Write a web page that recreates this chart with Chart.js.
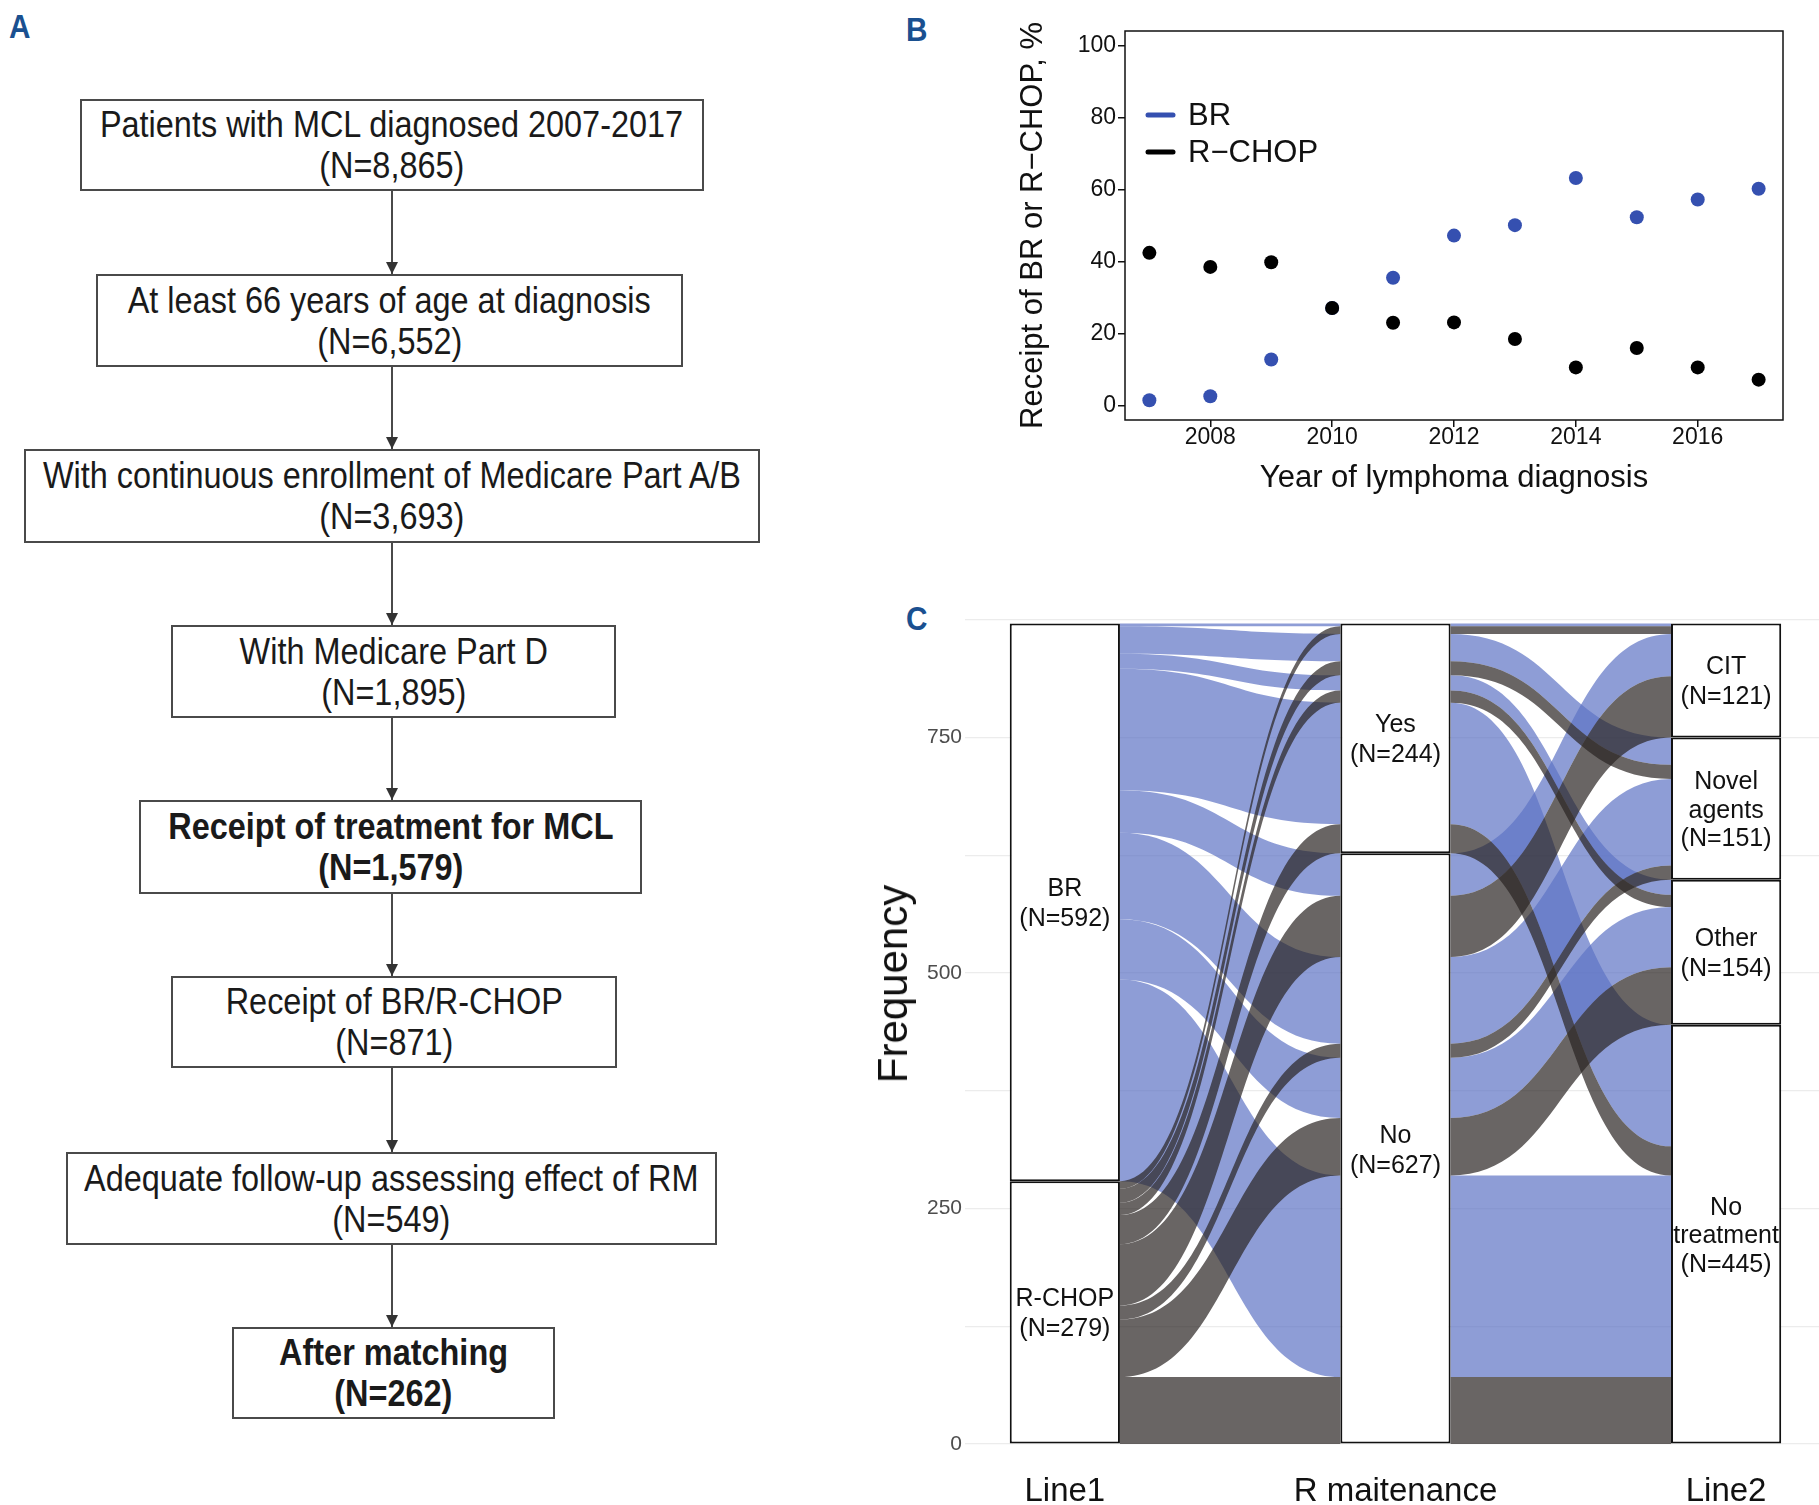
<!DOCTYPE html>
<html><head><meta charset="utf-8">
<script src="https://cdn.jsdelivr.net/npm/chart.js@4.4.1/dist/chart.umd.min.js"></script>
<style>
html,body{margin:0;padding:0;background:#fff;width:1819px;height:1505px;overflow:hidden;position:relative;font-family:'Liberation Sans',Arial,sans-serif;}
.plbl{position:absolute;font-family:'Liberation Sans',Arial,sans-serif;font-weight:bold;color:#1a5090;font-size:33px;line-height:1;transform:scaleX(0.9);transform-origin:left top;}
.box{position:absolute;border:2px solid #4a4a4a;box-sizing:border-box;display:flex;flex-direction:column;align-items:center;justify-content:center;font-family:'Liberation Sans',Arial,sans-serif;font-size:37px;line-height:41px;color:#1a1a1a;text-align:center;white-space:nowrap;}
.box span{display:inline-block;transform:scaleX(0.877);}
.box.b{font-weight:bold;}
.arrow{position:absolute;width:2px;background:#4a4a4a;}
.arrow:after{content:'';position:absolute;left:-5px;bottom:0;border-left:6px solid transparent;border-right:6px solid transparent;border-top:12px solid #333;}
canvas{position:absolute;}
.ytitle{position:absolute;font-size:42px;color:#111;white-space:nowrap;transform:translate(-50%,-50%) rotate(-90deg);}
</style>
</head><body>
<div class="plbl" style="left:9px;top:10px;">A</div>
<div class="plbl" style="left:906px;top:13px;">B</div>
<div class="plbl" style="left:906px;top:602px;">C</div>
<div id="flow"></div>
<canvas id="cB" width="819" height="500" style="left:1000px;top:0px;"></canvas>
<canvas id="cC" width="949" height="945" style="left:870px;top:560px;"></canvas>
<div class="ytitle" style="left:893px;top:984px;">Frequency</div>
<script>
// ---------- Panel A data ----------
const flowText = ['Patients with MCL diagnosed 2007-2017','At least 66 years of age at diagnosis','With continuous enrollment of Medicare Part A/B','With Medicare Part D','Receipt of treatment for MCL','Receipt of BR/R-CHOP','Adequate follow-up assessing effect of RM','After matching'];
const flowN = ['8,865','6,552','3,693','1,895','1,579','871','549','262'];
const flowBold = [false,false,false,false,true,false,false,true];

// ---------- Panel B data ----------
const years = [2007,2008,2009,2010,2011,2012,2013,2014,2015,2016,2017];
const brPct = [1.5,2.6,12.8,27.1,35.5,47.2,50.1,63.2,52.3,57.2,60.2];
const rchopPct = [42.4,38.5,39.8,27.1,23.0,23.1,18.5,10.6,16.0,10.6,7.2];
const xTicksB = [2008,2010,2012,2014,2016];
const yTicksB = [0,20,40,60,80,100];

// ---------- Panel C data ----------
const axisNames = ['Line1','R maitenance','Line2'];
const line1Levels = ['BR','R-CHOP'];
const rmLevels = ['Yes','No'];
const line2Levels = ['CIT','Novel\nagents','Other','No\ntreatment'];
// one alluvium per combination (index into levels)
const aLine1 = [0,0,0,0,0,0,0,0,1,1,1,1,1,1,1,1];
const aRM    = [0,0,0,0,1,1,1,1,0,0,0,0,1,1,1,1];
const aLine2 = [0,1,2,3,0,1,2,3,0,1,2,3,0,1,2,3];
const aCount = [3,29,16,129,45,92,64,214,8,15,13,31,65,15,61,71];
const yTicksC = [0,125,250,375,500,625,750,875];

// ---------- Panel A layout ----------
const flowLayout = [[80,99,624,92],[96,274,587,93],[24,449,736,94],[171,625,445,93],[139,800,503,94],[171,976,446,92],[66,1152,651,93],[232,1327,323,92]];
const flowDiv = document.getElementById('flow');
flowText.forEach((t,i)=>{
  const [l,tp,w,h] = flowLayout[i];
  const d = document.createElement('div');
  d.className = 'box' + (flowBold[i]?' b':'');
  d.style.cssText = `left:${l}px;top:${tp}px;width:${w}px;height:${h}px;`;
  const s1 = document.createElement('span'); s1.textContent = t;
  const s2 = document.createElement('span'); s2.textContent = '(N=' + flowN[i] + ')';
  d.appendChild(s1); d.appendChild(s2);
  flowDiv.appendChild(d);
  if (i < flowText.length-1) {
    const nx = flowLayout[i+1];
    const a = document.createElement('div');
    a.className = 'arrow';
    a.style.cssText = `left:391px;top:${tp+h}px;height:${nx[1]-(tp+h)}px;`;
    flowDiv.appendChild(a);
  }
});

const F = "'Liberation Sans', Arial, sans-serif";

// ---------- Panel B ----------
const boxPlugin = {id:'box', afterDraw(chart){
  const {ctx, chartArea:ca} = chart;
  ctx.save(); ctx.strokeStyle='#111'; ctx.lineWidth=1.5;
  ctx.strokeRect(ca.left, ca.top, ca.right-ca.left, ca.bottom-ca.top);
  ctx.restore();
}};
const legendB = {id:'legendB', afterDraw(chart){
  const {ctx, chartArea:ca} = chart;
  ctx.save();
  chart.data.datasets.forEach((ds,i)=>{
    const yy = ca.top + 84 + i*37;
    ctx.strokeStyle = ds.backgroundColor; ctx.lineWidth = 5; ctx.lineCap='round';
    ctx.beginPath(); ctx.moveTo(ca.left+23, yy); ctx.lineTo(ca.left+48, yy); ctx.stroke();
    ctx.fillStyle = '#111'; ctx.font = '31px ' + F; ctx.textBaseline = 'middle'; ctx.textAlign='left';
    ctx.fillText(ds.label, ca.left+63, yy+1);
  });
  ctx.restore();
}};
new Chart(document.getElementById('cB'), {
  type:'scatter',
  data:{datasets:[
    {label:'BR', data: years.map((x,i)=>({x, y:brPct[i]})), backgroundColor:'#3550b0', borderColor:'#3550b0', pointRadius:7, pointBorderWidth:0, order:2},
    {label:'R\u2212CHOP', data: years.map((x,i)=>({x, y:rchopPct[i]})), backgroundColor:'#000000', borderColor:'#000000', pointRadius:7, pointBorderWidth:0, order:1}
  ]},
  options:{
    responsive:false, animation:false, devicePixelRatio:1,
    layout:{padding:{top:31,right:36,left:0,bottom:0}},
    plugins:{legend:{display:false}, tooltip:{enabled:false}},
    scales:{
      x:{type:'linear', min:2006.6, max:2017.4,
        afterBuildTicks:s=>{s.ticks = xTicksB.map(v=>({value:v}));},
        afterFit:s=>{s.height=80;},
        grid:{drawOnChartArea:false, drawTicks:true, tickLength:7, color:'#111', lineWidth:1.5},
        border:{display:false},
        ticks:{font:{size:23,family:F,lineHeight:1}, color:'#111', padding:-1, maxRotation:0, autoSkip:false, callback:v=>String(v)},
        title:{display:true, text:'Year of lymphoma diagnosis', font:{size:31,family:F}, color:'#111', padding:{top:0,bottom:3}}
      },
      y:{type:'linear', min:-4, max:104,
        afterBuildTicks:s=>{s.ticks = yTicksB.map(v=>({value:v}));},
        afterFit:s=>{s.width=125;},
        grid:{drawOnChartArea:false, drawTicks:true, tickLength:7, color:'#111', lineWidth:1.5},
        border:{display:false},
        ticks:{font:{size:23,family:F}, color:'#111', padding:2, autoSkip:false, callback:v=>String(v)},
        title:{display:true, text:'Receipt of BR or R\u2212CHOP, %', font:{size:31,family:F}, color:'#111', padding:{top:15,bottom:0}}
      }
    }
  },
  plugins:[boxPlugin, legendB]
});

// ---------- Panel C ----------
const alluvStrata = [aLine1, aRM, aLine2];
const axisLevels = [line1Levels, rmLevels, line2Levels];
const priority = [[1,2],[2,0],[1,0]];
const total = aCount.reduce((s,v)=>s+v,0);
const strata = [];
axisLevels.forEach((levels,a)=>{
  let top = total;
  levels.forEach((lv,li)=>{
    const n = aCount.reduce((s,c,k)=>s+(alluvStrata[a][k]===li?c:0),0);
    strata.push({axis:a, label:lv, lo:top-n, hi:top, n});
    top -= n;
  });
});
const lodes = [0,1,2].map(a=>{
  const idx = aCount.map((_,k)=>k);
  const p = priority[a];
  idx.sort((i,j)=> (alluvStrata[a][i]-alluvStrata[a][j]) || (alluvStrata[p[0]][i]-alluvStrata[p[0]][j]) || (alluvStrata[p[1]][i]-alluvStrata[p[1]][j]));
  const res = new Array(aCount.length);
  let top = total;
  idx.forEach(k=>{ res[k] = [top-aCount[k], top]; top -= aCount[k]; });
  return res;
});
const flowFill = ['rgba(94,115,196,0.7)','rgba(42,36,34,0.7)'];
const halfW = 1/6;
const flowPlugin = {id:'flows', beforeDatasetsDraw(chart){
  const {ctx, scales:{x,y}} = chart;
  ctx.save();
  for (let k=0;k<aCount.length;k++){
    ctx.fillStyle = flowFill[aLine1[k]];
    for (let a=0;a<2;a++){
      const x0 = x.getPixelForValue(a+1+halfW), x1 = x.getPixelForValue(a+2-halfW);
      const t0 = y.getPixelForValue(lodes[a][k][1]), b0 = y.getPixelForValue(lodes[a][k][0]);
      const t1 = y.getPixelForValue(lodes[a+1][k][1]), b1 = y.getPixelForValue(lodes[a+1][k][0]);
      const c = (x1-x0)*0.5;
      ctx.beginPath();
      ctx.moveTo(x0,t0);
      ctx.bezierCurveTo(x0+c,t0,x1-c,t1,x1,t1);
      ctx.lineTo(x1,b1);
      ctx.bezierCurveTo(x1-c,b1,x0+c,b0,x0,b0);
      ctx.closePath();
      ctx.fill();
    }
  }
  ctx.restore();
}, afterDatasetsDraw(chart){
  const {ctx, scales:{x,y}} = chart;
  ctx.save();
  ctx.fillStyle='#111'; ctx.font='25px '+F; ctx.textAlign='center'; ctx.textBaseline='middle';
  strata.forEach(s=>{
    const lines = (s.label + '\n(N=' + s.n + ')').split('\n');
    const cx = x.getPixelForValue(s.axis+1);
    const cy = y.getPixelForValue((s.lo+s.hi)/2) + 2;
    const lh = lines.length>2 ? 28.5 : 30;
    lines.forEach((ln,i)=>ctx.fillText(ln, cx, cy + (i-(lines.length-1)/2)*lh));
  });
  ctx.restore();
}};
new Chart(document.getElementById('cC'), {
  type:'bar',
  data:{datasets:[{
    label:'strata',
    data: strata.map(s=>({x:s.axis+1, y:[s.lo, s.hi]})),
    backgroundColor:'#ffffff', borderColor:'#111111', borderWidth:2, borderSkipped:false,
    barPercentage:1/3, categoryPercentage:1
  }]},
  options:{
    responsive:false, animation:false, devicePixelRatio:1,
    layout:{padding:{top:20,right:0,left:0,bottom:0}},
    plugins:{legend:{display:false}, tooltip:{enabled:false}},
    scales:{
      x:{type:'linear', min:0.698, max:3.281, offset:false,
        afterBuildTicks:s=>{s.ticks=[1,2,3].map(v=>({value:v}));},
        afterFit:s=>{s.height=35;},
        grid:{display:false}, border:{display:false},
        ticks:{font:{size:33,family:F,lineHeight:1}, color:'#111', padding:-3, maxRotation:0, autoSkip:false, callback:v=>axisNames[v-1]}
      },
      y:{type:'linear', min:-27.6, max:917.2,
        afterBuildTicks:s=>{s.ticks=yTicksC.map(v=>({value:v}));},
        afterFit:s=>{s.width=95;},
        grid:{color:'#ececec', lineWidth:1.2, drawTicks:false}, border:{display:false},
        ticks:{font:{size:21,family:F}, color:'#4d4d4d', padding:3, autoSkip:false, callback:v=>(v%250===0?String(v):'')}
      }
    }
  },
  plugins:[flowPlugin]
});
</script>
</body></html>
